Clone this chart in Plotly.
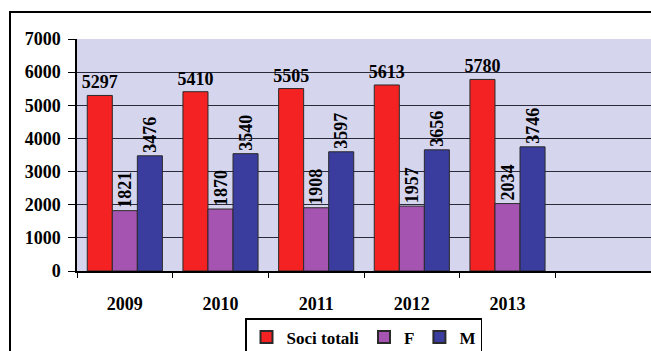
import plotly.graph_objects as go

years = ["2009", "2010", "2011", "2012", "2013"]
soci_totali = [5297, 5410, 5505, 5613, 5780]
femmine = [1821, 1870, 1908, 1957, 2034]
maschi = [3476, 3540, 3597, 3656, 3746]
y_ticks = [0, 1000, 2000, 3000, 4000, 5000, 6000, 7000]

FONT = "Liberation Serif, Times New Roman, serif"
W, H = 651, 351
L, R, T, B = 77, 0, 39, 80
pw, ph = W - L - R, H - T - B

lab_font = dict(family=FONT, size=18, color="black", weight="bold")
line = dict(color="#2a2a2a", width=1)

fig = go.Figure()
fig.add_trace(go.Bar(
    name="Soci totali", x=years, y=soci_totali, marker=dict(color="#f42222", line=line),
    text=soci_totali, textposition="outside", textangle=0, textfont=lab_font,
    constraintext="none", cliponaxis=False))
fig.add_trace(go.Bar(
    name="F", x=years, y=femmine, marker=dict(color="#a654b2", line=line),
    text=femmine, textposition="outside", textangle=-90, textfont=lab_font,
    constraintext="none", cliponaxis=False))
fig.add_trace(go.Bar(
    name="M", x=years, y=maschi, marker=dict(color="#3a3c9e", line=line),
    text=maschi, textposition="outside", textangle=-90, textfont=lab_font,
    constraintext="none", cliponaxis=False))

fig.update_layout(
    width=W, height=H,
    margin=dict(l=L, r=R, t=T, b=B, pad=0, autoexpand=False),
    paper_bgcolor="white", plot_bgcolor="#d5d5ee",
    barmode="group", bargap=0.215, bargroupgap=0,
    font=dict(family=FONT, size=18, color="black", weight="bold"),
    showlegend=True,
    legend=dict(orientation="h", x=(363.5 - L) / pw, xanchor="center",
                y=(H - B - 318) / ph, yanchor="top",
                bgcolor="white", bordercolor="black", borderwidth=1.5,
                font=dict(family=FONT, size=17, color="black", weight="bold"),
                itemsizing="constant", itemwidth=30, tracegroupgap=0),
    xaxis=dict(type="category", categoryorder="array", categoryarray=years,
               range=[-0.5, 5.5], showgrid=False, showline=True,
               linecolor="black", linewidth=1.5, ticks="outside", tickson="boundaries",
               ticklen=5, tickcolor="black", ticklabelstandoff=16, automargin=False,
               tickfont=dict(family=FONT, size=18, color="black", weight="bold")),
    yaxis=dict(range=[0, 7000], tickvals=y_ticks, showgrid=True, gridcolor="#2a2a3a",
               gridwidth=1, showline=True, linecolor="black", linewidth=1.5,
               ticks="outside", ticklen=7, tickcolor="black", zeroline=False,
               automargin=False, ticklabelstandoff=4,
               tickfont=dict(family=FONT, size=18, color="black", weight="bold")),
    shapes=[dict(type="rect", xref="paper", yref="paper",
                 x0=(10 - L) / pw, x1=1.3, y0=-0.8, y1=(H - B - 12) / ph,
                 line=dict(color="black", width=2), fillcolor="rgba(0,0,0,0)",
                 layer="above")],
)

fig.write_html("out.html",
               config={"displayModeBar": False},
               post_script="document.body.style.margin='0';document.body.style.overflow='hidden';")
